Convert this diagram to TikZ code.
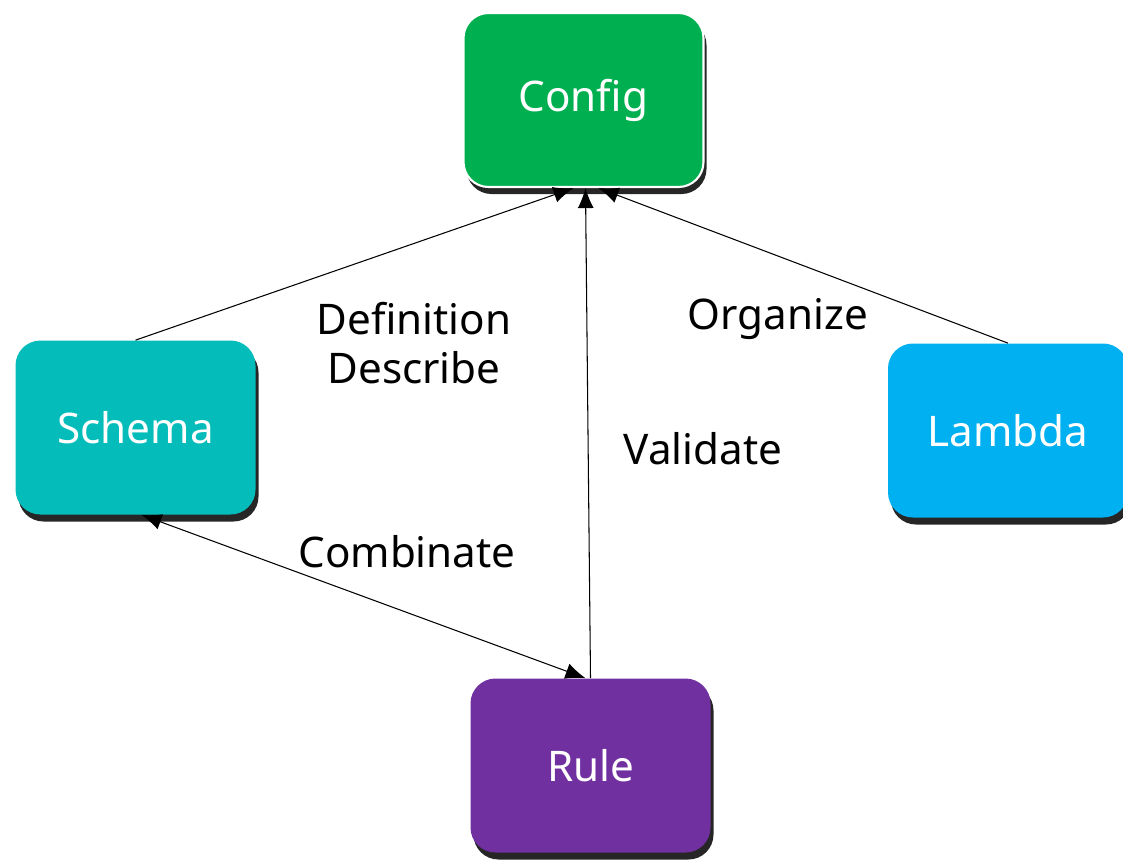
\documentclass[tikz,border=0pt]{standalone}
\usepackage{fontspec}
\setmainfont{Noto Sans}
\usetikzlibrary{shadows,arrows.meta}
\definecolor{cfggreen}{HTML}{00B050}
\definecolor{schteal}{HTML}{04BDBA}
\definecolor{lamblue}{HTML}{00B0F0}
\definecolor{rulepurple}{HTML}{7030A0}
\begin{document}
\begin{tikzpicture}[>={Latex[length=0.4cm, width=0.32cm]},
	box/.style={rounded corners=0.5cm, minimum width=4.8cm, minimum height=3.48cm, text=white, font=\fontsize{24}{28}\selectfont, drop shadow={fill=black, opacity=0.85, shadow xshift=0.06cm, shadow yshift=-0.14cm}},
	lbl/.style={align=center, font=\fontsize{24}{28}\selectfont},
	conn/.style={line width=0.6pt}]
	\useasboundingbox (0, 0) rectangle (22.46, -17.22);
	\node[box, fill=cfggreen, draw=white, line width=1.2pt] (config) at (11.67, -2.00) {Config};
	\node[box, fill=schteal] (schema) at (2.71, -8.55) {Schema};
	\node[box, fill=lamblue] (lambda) at (20.16, -8.61) {Lambda};
	\node[box, fill=rulepurple] (rule) at (11.81, -15.31) {Rule};
	
	\node[lbl] (defdesc) at (8.28, -6.86) {Definition\\Describe};
	\node[lbl] (organize) at (15.56, -6.38) {Organize};
	\node[lbl] (validate) at (14.06, -8.98) {Validate};
	\node[lbl] (combinate) at (8.14, -11.04) {Combinate};
	
	\draw[conn, ->] (schema.north) -- ([xshift=-0.2cm]config.south);
	\draw[conn, ->] (lambda.north) -- ([xshift=0.3cm]config.south);
	\draw[conn, ->] (rule.north) -- ([xshift=0.04cm]config.south);
	\draw[conn, <->] ([xshift=0.12cm]schema.south) -- ([xshift=-0.1cm]rule.north);
\end{tikzpicture}
\end{document}
